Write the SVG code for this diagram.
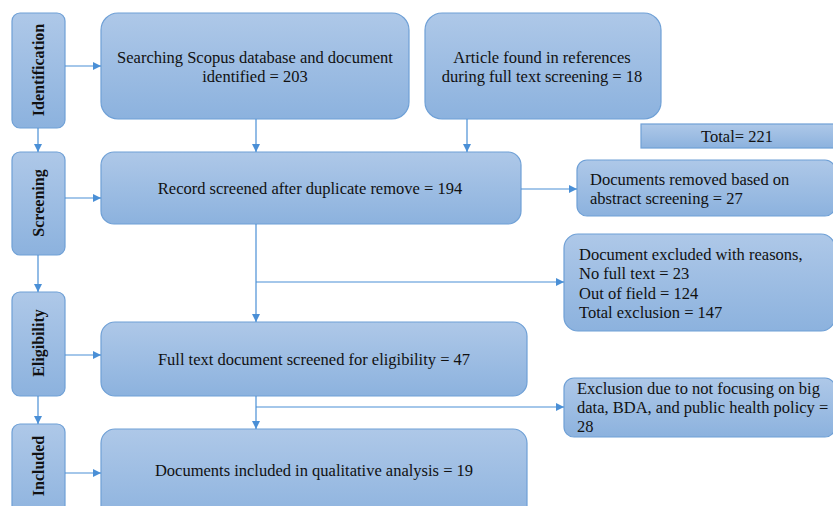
<svg xmlns="http://www.w3.org/2000/svg" width="833" height="506" viewBox="0 0 833 506">
<defs>
<linearGradient id="g" x1="0" y1="0" x2="0" y2="1">
<stop offset="0" stop-color="#aec8e8"/>
<stop offset="1" stop-color="#8cb2de"/>
</linearGradient>
<marker id="a" viewBox="0 0 10 10" refX="10" refY="5" markerWidth="8" markerHeight="8" markerUnits="userSpaceOnUse" orient="auto">
<path d="M0,0 L10,5 L0,10 z" fill="#4a8fd6"/>
</marker>
<style>
.box{fill:url(#g);stroke:#6fa0d6;stroke-width:1.2}
.t{font-family:"Liberation Serif","Times New Roman",serif;font-size:16.5px;fill:#111}
.s{font-family:"Liberation Serif","Times New Roman",serif;font-size:16px;font-weight:bold;fill:#111}
.c{text-anchor:middle}
.ln{stroke:#4a8fd6;stroke-width:1.2;fill:none}
</style>
</defs>
<rect width="833" height="506" fill="#fff"/>
<g id="identification"><rect class="box" x="12" y="13" width="53" height="115" rx="8"/><text class="s c" transform="translate(44,70) rotate(-90)">Identification</text></g>
<g id="screening"><rect class="box" x="12" y="152" width="53" height="103" rx="8"/><text class="s c" transform="translate(44,203) rotate(-90)">Screening</text></g>
<g id="eligibility"><rect class="box" x="12" y="292" width="53" height="104" rx="8"/><text class="s c" transform="translate(44,343) rotate(-90)">Eligibility</text></g>
<g id="included"><rect class="box" x="12" y="424" width="53" height="100" rx="8"/><text class="s c" transform="translate(44,466) rotate(-90)">Included</text></g>
<g id="search"><rect class="box" x="101" y="13" width="308" height="106" rx="17"/><text class="t c" x="255" y="63">Searching Scopus database and document</text><text class="t c" x="255" y="82">identified = 203</text></g>
<g id="article"><rect class="box" x="425" y="13" width="236" height="106" rx="17"/><text class="t c" x="542" y="63">Article found in references</text><text class="t c" x="542" y="82">during full text screening = 18</text></g>
<g id="total"><rect class="box" x="641" y="124" width="194" height="24"/><text class="t c" x="737" y="142">Total= 221</text></g>
<g id="record"><rect class="box" x="101" y="152" width="420" height="72" rx="13"/><text class="t c" x="310" y="194">Record screened after duplicate remove = 194</text></g>
<g id="removed"><rect class="box" x="577" y="160" width="258" height="56" rx="10"/><text class="t" x="590" y="185">Documents removed based on</text><text class="t" x="590" y="204">abstract screening = 27</text></g>
<g id="excluded"><rect class="box" x="564" y="234" width="271" height="97" rx="14"/><text class="t" x="579" y="260">Document excluded with reasons,</text><text class="t" x="579" y="279">No full text = 23</text><text class="t" x="579" y="299">Out of field = 124</text><text class="t" x="579" y="318">Total exclusion = 147</text></g>
<g id="fulltext"><rect class="box" x="101" y="322" width="426" height="74" rx="14"/><text class="t c" x="314" y="365">Full text document screened for eligibility = 47</text></g>
<g id="exclusion"><rect class="box" x="564" y="378" width="271" height="59" rx="10"/><text class="t" x="577" y="394">Exclusion due to not focusing on big</text><text class="t" x="577" y="413">data, BDA, and public health policy =</text><text class="t" x="577" y="432">28</text></g>
<g id="includedDocs"><rect class="box" x="101" y="429" width="426" height="95" rx="14"/><text class="t c" x="314" y="476">Documents included in qualitative analysis = 19</text></g>
<g id="connectors">
<line class="ln" x1="65" y1="66" x2="101" y2="66" marker-end="url(#a)"/>
<line class="ln" x1="38" y1="128" x2="38" y2="152" marker-end="url(#a)"/>
<line class="ln" x1="256" y1="119" x2="256" y2="152" marker-end="url(#a)"/>
<line class="ln" x1="467" y1="119" x2="467" y2="152" marker-end="url(#a)"/>
<line class="ln" x1="65" y1="198" x2="101" y2="198" marker-end="url(#a)"/>
<line class="ln" x1="521" y1="189" x2="577" y2="189" marker-end="url(#a)"/>
<line class="ln" x1="38" y1="255" x2="38" y2="292" marker-end="url(#a)"/>
<line class="ln" x1="256" y1="224" x2="256" y2="322" marker-end="url(#a)"/>
<line class="ln" x1="256" y1="282" x2="564" y2="282" marker-end="url(#a)"/>
<line class="ln" x1="65" y1="355" x2="101" y2="355" marker-end="url(#a)"/>
<line class="ln" x1="38" y1="396" x2="38" y2="424" marker-end="url(#a)"/>
<line class="ln" x1="256" y1="396" x2="256" y2="429" marker-end="url(#a)"/>
<line class="ln" x1="256" y1="407" x2="564" y2="407" marker-end="url(#a)"/>
<line class="ln" x1="65" y1="473" x2="101" y2="473" marker-end="url(#a)"/>
</g>
</svg>
